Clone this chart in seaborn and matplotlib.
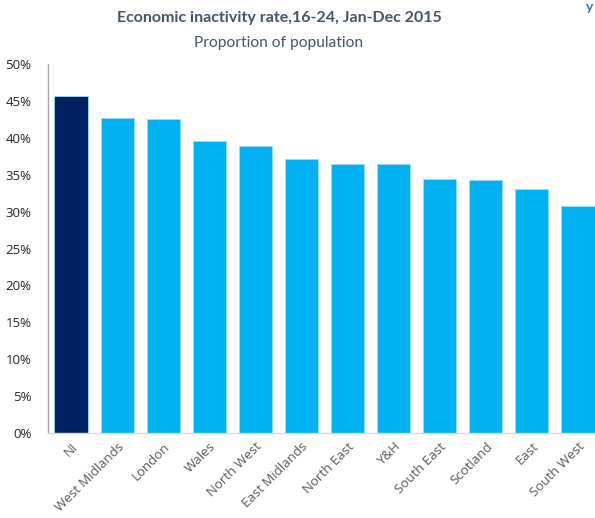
import matplotlib
matplotlib.use("Agg")
import matplotlib.pyplot as plt
import seaborn as sns
import pandas as pd
from matplotlib.ticker import FuncFormatter

regions = ["NI", "West Midlands", "London", "Wales", "North West", "East Midlands",
           "North East", "Y&H", "South East", "Scotland", "East", "South West"]
rates = [45.7, 42.7, 42.6, 39.6, 38.9, 37.1, 36.5, 36.5, 34.4, 34.3, 33.1, 30.8]
yticks = [0, 5, 10, 15, 20, 25, 30, 35, 40, 45, 50]

df = pd.DataFrame({"region": regions, "rate": rates})
palette = {r: ("#002060" if r == "NI" else "#00B0F0") for r in regions}

sns.set_theme(style="white")
plt.rcParams["font.family"] = ["Open Sans", "DejaVu Sans"]

fig = plt.figure(figsize=(5.95, 5.18), dpi=100)
W, H = 595, 518
left, right, top, bottom = 48, 601, 64, 433
ax = fig.add_axes([left / W, 1 - bottom / H, (right - left) / W, (bottom - top) / H])

sns.barplot(data=df, x="region", y="rate", hue="region", palette=palette,
            legend=False, width=0.72, ax=ax, saturation=1,
            edgecolor="#9ADCF7", linewidth=0.6)

ax.set_ylim(0, 50)
ax.set_xlim(-0.5, len(regions) - 0.5)
ax.set_yticks(yticks)
ax.yaxis.set_major_formatter(FuncFormatter(lambda v, p: f"{int(v)}%"))
ax.set_xlabel("")
ax.set_ylabel("")
ax.tick_params(axis="y", length=0, pad=12, labelsize=9.5, labelcolor="#262626")
ax.tick_params(axis="x", length=0, pad=5, labelsize=9.5, labelcolor="#595959")
for lab in ax.get_xticklabels():
    lab.set_rotation(45)
    lab.set_ha("right")
    lab.set_rotation_mode("anchor")

for s in ["top", "right"]:
    ax.spines[s].set_visible(False)
ax.spines["left"].set_color("#A6A6A6")
ax.spines["left"].set_linewidth(1.0)
ax.spines["bottom"].set_color("#D9D9D9")
ax.spines["bottom"].set_linewidth(1.0)

fig.text(279 / W, 1 - 18 / H, "Economic inactivity rate,16-24, Jan-Dec 2015",
         ha="center", va="center", fontsize=11.5, fontweight="bold",
         color="#44546A", family=["Lato", "DejaVu Sans"])
fig.text(279 / W, 1 - 43 / H, "Proportion of population",
         ha="center", va="center", fontsize=11.2,
         color="#44546A", family=["Lato", "DejaVu Sans"])
fig.text(590 / W, 1 - 1 / H, "y", ha="center", va="top", fontsize=10,
         fontweight="bold", color="#2E75B6", family=["Lato", "DejaVu Sans"])

fig.savefig("out.png", dpi=100)
